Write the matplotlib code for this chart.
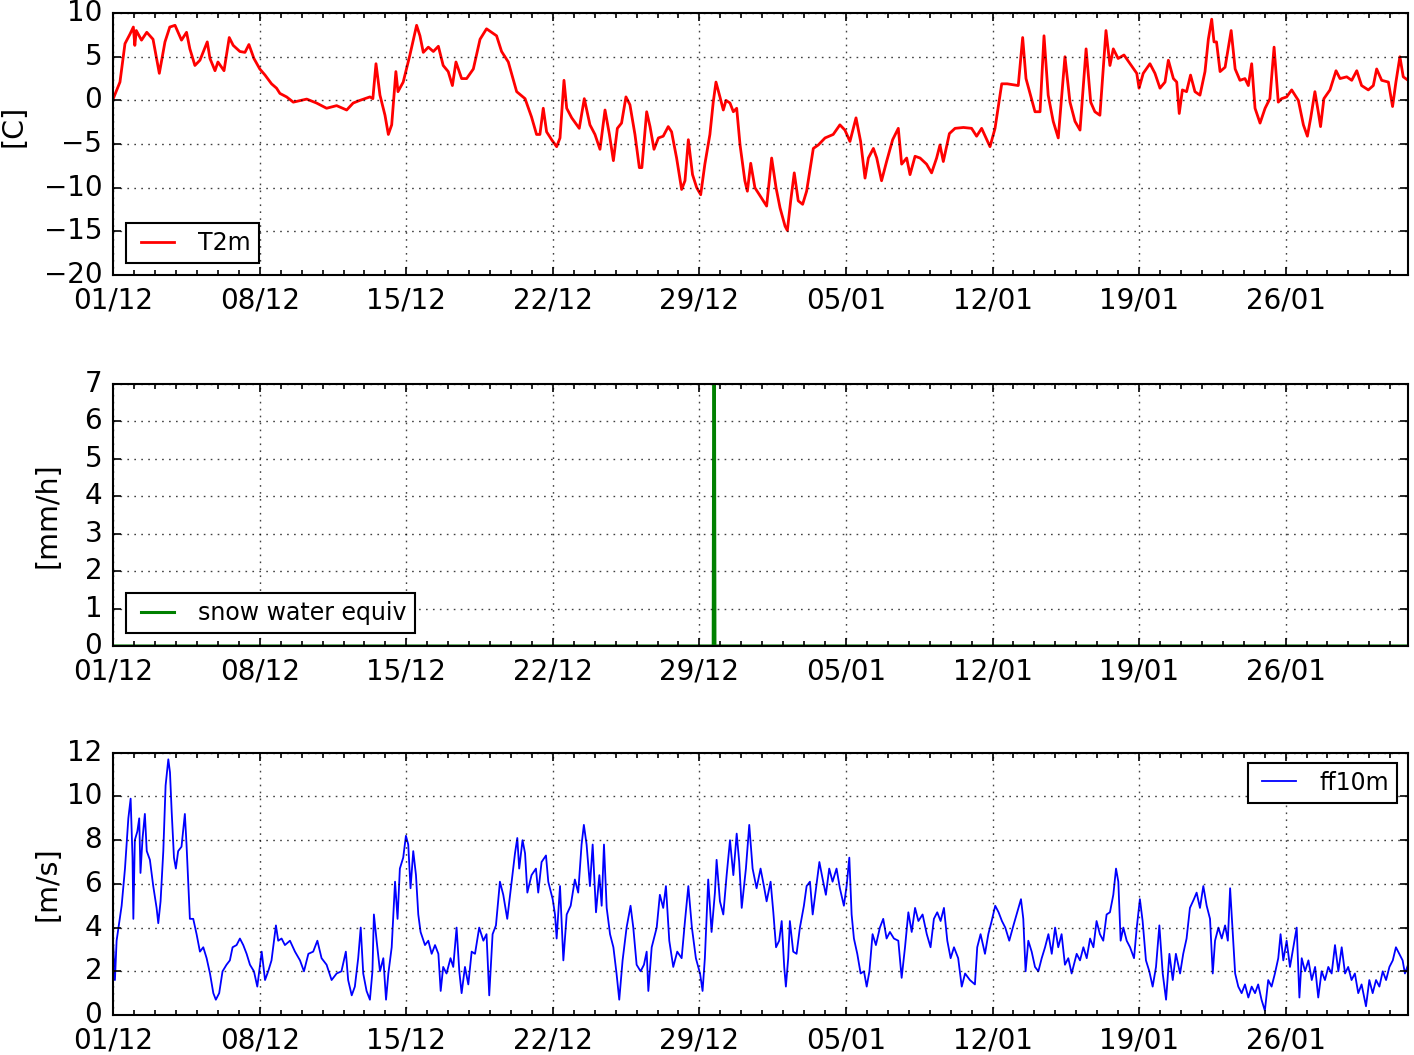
import numpy as np
import matplotlib
matplotlib.use('Agg')
import matplotlib.pyplot as plt
import matplotlib.dates as mdates

# start of the record, times below are days after it
start = np.datetime64('2012-12-01T00:00')
end_day = 61.85

# 2 m temperature [C]
t2m_day = [0, 0.32, 0.56, 0.8, 0.96, 1.03, 1.1, 1.35, 1.6, 1.9, 2.2, 2.47, 2.7, 2.95, 3.26, 3.5,
           3.66, 3.9, 4.14, 4.49, 4.62, 4.86, 5.0, 5.29, 5.54, 5.73, 6.05, 6.29, 6.48, 6.72, 7.0,
           7.25, 7.56, 7.8, 7.96, 8.28, 8.6, 9.24, 9.71, 10.19, 10.67, 11.15, 11.46, 11.78, 12.26,
           12.4, 12.55, 12.74, 12.98, 13.14, 13.3, 13.5, 13.6, 13.85, 14.17, 14.49, 14.65, 14.81,
           15.05, 15.29, 15.53, 15.76, 16.0, 16.2, 16.37, 16.64, 16.88, 17.2, 17.52, 17.83, 18.07,
           18.31, 18.55, 18.87, 19.27, 19.67, 19.98, 20.22, 20.38, 20.54, 20.7, 20.94, 21.18,
           21.34, 21.53, 21.66, 21.9, 22.26, 22.5, 22.77, 23.01, 23.25, 23.49, 23.7, 23.89, 24.08,
           24.28, 24.49, 24.68, 24.92, 25.13, 25.25, 25.48, 25.64, 25.83, 26.04, 26.27, 26.51,
           26.67, 26.91, 27.15, 27.31, 27.47, 27.67, 27.87, 28.06, 28.26, 28.5, 28.66, 28.79,
           28.98, 29.14, 29.27, 29.46, 29.62, 29.78, 29.94, 30.17, 30.29, 30.45, 30.65, 30.89,
           31.21, 31.45, 31.66, 31.85, 32.09, 32.2, 32.36, 32.53, 32.72, 32.93, 33.12, 33.44,
           33.68, 34.0, 34.39, 34.71, 34.95, 35.19, 35.48, 35.7, 35.91, 36.07, 36.31, 36.47, 36.7,
           36.94, 37.23, 37.5, 37.66, 37.9, 38.06, 38.3, 38.54, 38.85, 39.09, 39.33, 39.49, 39.65,
           39.94, 40.21, 40.61, 41.0, 41.24, 41.48, 41.88, 42.12, 42.44, 42.7, 43.23, 43.44, 43.6,
           43.79, 44.03, 44.27, 44.46, 44.66, 44.9, 45.14, 45.46, 45.7, 45.94, 46.18, 46.47,
           46.69, 46.89, 47.13, 47.42, 47.61, 47.77, 48.0, 48.28, 48.57, 48.89, 49.0, 49.2, 49.52,
           49.76, 50.0, 50.24, 50.4, 50.64, 50.8, 50.92, 51.07, 51.27, 51.46, 51.67, 51.91, 52.15,
           52.31, 52.47, 52.58, 52.7, 52.87, 53.11, 53.4, 53.59, 53.82, 54.06, 54.22, 54.38,
           54.54, 54.78, 55.02, 55.25, 55.45, 55.65, 55.81, 56.05, 56.29, 56.61, 56.85, 57.04,
           57.2, 57.4, 57.56, 57.67, 57.83, 58.12, 58.41, 58.6, 58.92, 59.16, 59.4, 59.63, 59.95,
           60.19, 60.35, 60.59, 60.91, 61.11, 61.27, 61.46, 61.62, 61.85]
t2m_val = [0.2, 2.1, 6.5, 7.6, 8.4, 6.3, 8.0, 6.9, 7.8, 7.0, 3.1, 6.7, 8.4, 8.6, 6.9, 7.8,
           5.9, 4.0, 4.6, 6.7, 4.8, 3.4, 4.4, 3.4, 7.2, 6.3, 5.6, 5.5, 6.4, 4.8, 3.6,
           2.9, 1.9, 1.4, 0.8, 0.4, -0.2, 0.15, -0.3, -0.9, -0.6, -1.1, -0.3, 0.0, 0.4,
           0.2, 4.2, 0.6, -1.7, -3.9, -2.8, 3.3, 1.0, 2.1, 5.2, 8.6, 7.4, 5.5,
           6.1, 5.6, 6.2, 4.0, 3.3, 1.7, 4.4, 2.5, 2.5, 3.6, 7.0, 8.2, 7.8,
           7.4, 5.6, 4.4, 1.0, 0.2, -1.9, -3.9, -3.9, -0.9, -3.6, -4.5, -5.3,
           -4.3, 2.3, -0.9, -2.0, -3.2, 0.2, -2.8, -3.9, -5.6, -1.1, -3.9, -6.9, -3.2,
           -2.6, 0.4, -0.5, -3.9, -7.7, -7.7, -1.3, -3.0, -5.6, -4.3, -4.1, -3.0,
           -3.6, -6.6, -10.2, -9.2, -4.5, -8.5, -10.0, -10.8, -7.3, -3.9, -0.2, 2.1,
           0.4, -1.1, 0.0, -0.3, -1.3, -0.9, -5.1, -9.2, -10.4, -7.2, -10.0, -10.9,
           -12.1, -6.6, -10.0, -12.3, -14.4, -14.9, -11.5, -8.3, -11.5, -11.9, -10.4, -5.5,
           -5.1, -4.3, -3.9, -2.8, -3.4, -4.7, -2.0, -4.7, -8.9, -6.6, -5.5, -6.6, -9.2,
           -7.0, -4.5, -3.2, -7.3, -6.6, -8.5, -6.4, -6.6, -7.3, -8.3, -6.6, -5.1, -7.0,
           -3.8, -3.2, -3.1, -3.2, -4.1, -3.2, -5.3, -3.2, 1.9, 1.9, 1.7, 7.2, 2.5,
           0.8, -1.3, -1.3, 7.4, 0.6, -2.4, -4.3, 5.0, -0.2, -2.4, -3.4, 5.9,
           -0.2, -1.3, -1.7, 8.0, 4.0, 5.9, 4.8, 5.2, 4.2, 3.1, 1.4, 3.1, 4.2,
           3.1, 1.4, 2.1, 4.6, 2.5, 2.1, -1.5, 1.2, 1.0, 2.9, 1.0, 0.6, 3.3,
           7.0, 9.3, 6.7, 6.7, 3.3, 3.8, 8.0, 3.6, 2.3, 2.5, 1.7, 4.2,
           -0.9, -2.6, -0.9, 0.2, 6.1, -0.2, 0.2, 0.4, 1.2, 0.0, -2.8, -4.1,
           -2.0, 1.0, -1.3, -3.0, 0.2, 1.2, 3.4, 2.5, 2.7, 2.3, 3.4, 1.7, 1.2,
           1.7, 3.6, 2.3, 2.1, -0.7, 2.1, 5.0, 2.7, 2.3]

# snow water equivalent [mm/h], zero apart from one hour
snow_day = [0, 28.66, 28.7, 28.74, 61.85]
snow_val = [0, 0, 12.0, 0, 0]

# 10 m wind speed [m/s]
ff_day = [0.0, 0.08, 0.16, 0.4, 0.56, 0.72, 0.83, 0.92, 0.96, 1.03, 1.15, 1.24, 1.3, 1.4, 1.51,
          1.6, 1.75, 1.91, 2.07, 2.15, 2.26, 2.39, 2.5, 2.63, 2.71, 2.79, 2.9, 2.99, 3.1, 3.26,
          3.42, 3.5, 3.58, 3.66, 3.82, 3.98, 4.14, 4.3, 4.46, 4.62, 4.78, 4.9, 5.06, 5.22, 5.41,
          5.57, 5.7, 5.89, 6.05, 6.21, 6.37, 6.53, 6.72, 6.88, 7.09, 7.25, 7.4, 7.56, 7.77, 7.88,
          8.04, 8.2, 8.44, 8.68, 8.92, 9.11, 9.32, 9.55, 9.75, 9.95, 10.19, 10.43, 10.67, 10.9,
          11.11, 11.22, 11.39, 11.54, 11.7, 11.82, 11.94, 12.1, 12.26, 12.38, 12.45, 12.58, 12.74,
          12.9, 13.03, 13.14, 13.3, 13.46, 13.58, 13.69, 13.85, 13.98, 14.09, 14.2, 14.33, 14.46,
          14.57, 14.68, 14.89, 15.05, 15.21, 15.37, 15.53, 15.64, 15.76, 15.92, 16.11, 16.24,
          16.4, 16.53, 16.64, 16.8, 16.96, 17.12, 17.28, 17.48, 17.68, 17.83, 17.96, 18.12,
          18.28, 18.47, 18.63, 18.82, 19.03, 19.19, 19.3, 19.39, 19.55, 19.67, 19.78, 19.98,
          20.19, 20.3, 20.46, 20.67, 20.78, 20.99, 21.1, 21.18, 21.34, 21.5, 21.66, 21.85, 22.05,
          22.21, 22.37, 22.48, 22.61, 22.77, 22.9, 23.06, 23.22, 23.33, 23.44, 23.57, 23.73,
          23.89, 24.04, 24.17, 24.33, 24.52, 24.71, 24.84, 25.0, 25.19, 25.35, 25.48, 25.56,
          25.72, 25.96, 26.11, 26.27, 26.4, 26.56, 26.75, 26.94, 27.15, 27.31, 27.47, 27.64,
          27.83, 28.03, 28.15, 28.26, 28.42, 28.58, 28.74, 28.82, 28.98, 29.14, 29.3, 29.46,
          29.62, 29.78, 29.9, 30.02, 30.22, 30.38, 30.54, 30.73, 30.92, 31.08, 31.21, 31.4,
          31.53, 31.66, 31.81, 31.93, 32.05, 32.13, 32.24, 32.32, 32.48, 32.64, 32.8, 32.99,
          33.12, 33.28, 33.41, 33.57, 33.73, 33.89, 34.04, 34.2, 34.36, 34.55, 34.71, 34.9,
          35.03, 35.16, 35.27, 35.38, 35.54, 35.7, 35.86, 35.99, 36.12, 36.27, 36.43, 36.62,
          36.78, 36.94, 37.1, 37.29, 37.5, 37.66, 37.82, 37.98, 38.14, 38.3, 38.46, 38.66,
          38.86, 39.04, 39.2, 39.36, 39.52, 39.68, 39.84, 40.0, 40.16, 40.36, 40.53, 40.69,
          40.92, 41.16, 41.27, 41.43, 41.64, 41.8, 41.96, 42.13, 42.29, 42.45, 42.61, 42.8,
          43.0, 43.15, 43.36, 43.47, 43.58, 43.71, 43.87, 44.03, 44.19, 44.35, 44.51, 44.67,
          44.83, 44.99, 45.14, 45.3, 45.46, 45.62, 45.78, 46.02, 46.18, 46.34, 46.5, 46.66,
          46.82, 46.97, 47.13, 47.29, 47.45, 47.61, 47.77, 47.9, 48.01, 48.12, 48.25, 48.41,
          48.57, 48.76, 48.89, 49.04, 49.17, 49.33, 49.49, 49.65, 49.81, 49.97, 50.13, 50.29,
          50.45, 50.61, 50.76, 50.96, 51.11, 51.27, 51.43, 51.62, 51.75, 51.91, 52.07, 52.23,
          52.39, 52.52, 52.63, 52.79, 52.95, 53.11, 53.24, 53.35, 53.48, 53.59, 53.74, 53.9,
          54.06, 54.22, 54.38, 54.54, 54.69, 54.85, 55.01, 55.17, 55.33, 55.49, 55.65, 55.76,
          55.89, 56.05, 56.21, 56.37, 56.53, 56.66, 56.77, 56.93, 57.09, 57.25, 57.41, 57.56,
          57.72, 57.88, 58.04, 58.2, 58.36, 58.52, 58.68, 58.84, 58.99, 59.15, 59.31, 59.47,
          59.63, 59.84, 60.0, 60.16, 60.32, 60.48, 60.64, 60.8, 60.96, 61.12, 61.27, 61.43,
          61.59, 61.7, 61.85]
ff_val = [3.2, 1.6, 3.4, 5.0, 6.7, 9.0, 9.9, 7.2, 4.4, 8.0, 8.4, 9.0, 6.5, 8.1, 9.2,
          7.5, 7.1, 5.9, 4.9, 4.2, 5.2, 7.5, 10.5, 11.7, 11.1, 9.3, 7.2, 6.7, 7.5, 7.7,
          9.2, 7.8, 6.1, 4.4, 4.4, 3.7, 2.9, 3.1, 2.6, 1.9, 1.0, 0.7, 1.0, 2.0, 2.3,
          2.5, 3.1, 3.2, 3.5, 3.2, 2.8, 2.3, 2.0, 1.3, 2.9, 1.6, 2.0, 2.5, 4.1, 3.4,
          3.5, 3.2, 3.4, 2.9, 2.5, 2.0, 2.8, 2.9, 3.4, 2.6, 2.3, 1.6, 1.9, 2.0,
          2.9, 1.6, 0.9, 1.3, 2.6, 4.0, 1.9, 1.1, 0.7, 2.0, 4.6, 3.4, 2.0,
          2.6, 0.7, 1.9, 3.1, 6.1, 4.4, 6.7, 7.2, 8.2, 7.8, 5.8, 7.5, 6.4,
          4.6, 3.8, 3.2, 3.4, 2.8, 3.2, 2.8, 1.1, 2.2, 1.9, 2.6, 2.2,
          4.0, 2.0, 1.0, 2.2, 1.4, 2.9, 2.8, 4.0, 3.4, 3.7, 0.9, 3.7,
          4.1, 6.1, 5.5, 4.4, 6.1, 7.4, 8.1, 6.7, 8.0, 7.4, 5.6, 6.4,
          6.7, 5.6, 7.0, 7.3, 6.1, 5.3, 4.6, 3.5, 5.9, 2.5, 4.6, 5.0, 6.2,
          5.6, 7.8, 8.7, 7.8, 5.9, 7.8, 4.7, 6.4, 5.0, 7.8, 4.9, 3.7,
          3.1, 1.9, 0.7, 2.5, 4.0, 5.0, 4.0, 2.3, 2.0, 2.3, 2.9, 1.1,
          3.1, 4.0, 5.5, 4.9, 5.9, 3.4, 2.2, 2.9, 2.6, 4.3, 5.9, 4.0,
          2.6, 1.9, 1.1, 2.6, 6.2, 3.8, 5.6, 7.1, 5.2, 4.6, 6.4, 8.0,
          6.4, 8.3, 7.0, 4.9, 6.7, 8.7, 6.7, 5.8, 6.7, 5.9, 5.2, 6.1,
          4.7, 3.1, 3.4, 4.3, 2.2, 1.3, 2.6, 4.3, 2.9, 2.8, 4.0, 5.0,
          5.9, 6.1, 4.6, 5.8, 7.0, 6.2, 5.5, 6.7, 6.1, 6.7, 5.8, 5.0,
          5.9, 7.2, 4.6, 3.5, 2.8, 1.9, 2.0, 1.3, 2.0, 3.7, 3.2, 4.0,
          4.4, 3.5, 3.8, 3.5, 3.4, 1.7, 3.1, 4.7, 3.8, 4.9, 4.3, 4.6,
          3.7, 3.1, 4.4, 4.7, 4.3, 4.9, 3.4, 2.6, 3.1, 2.6, 1.3, 1.9,
          1.6, 1.4, 3.1, 3.7, 2.8, 3.7, 4.3, 5.0, 4.7, 4.3, 4.0, 3.4,
          4.1, 4.6, 5.3, 4.4, 2.0, 3.4, 2.9, 2.2, 2.0, 2.6, 3.1, 3.7,
          2.8, 4.0, 3.1, 3.7, 2.3, 2.6, 1.9, 2.8, 2.5, 3.1, 2.6, 3.5,
          3.1, 4.3, 3.7, 3.4, 4.6, 4.7, 5.5, 6.7, 6.1, 3.4, 4.0, 3.4,
          3.1, 2.6, 4.0, 5.3, 4.3, 2.5, 2.0, 1.3, 2.2, 4.1, 1.9, 0.7,
          2.8, 1.6, 2.8, 1.9, 2.8, 3.5, 4.9, 5.3, 5.6, 4.9, 5.9, 5.0,
          4.4, 1.9, 3.4, 4.0, 3.5, 4.1, 3.4, 5.8, 3.7, 1.9, 1.3, 1.0,
          1.4, 0.8, 1.3, 1.0, 1.4, 0.7, 0.2, 1.6, 1.3, 1.9, 2.6, 3.7,
          2.5, 3.4, 2.2, 3.1, 4.0, 0.8, 2.6, 2.0, 2.5, 1.6, 2.2, 0.8,
          2.0, 1.6, 2.2, 1.9, 3.2, 2.0, 3.1, 1.9, 2.2, 1.6, 1.9, 1.0,
          1.4, 0.4, 1.6, 1.0, 1.6, 1.3, 2.0, 1.6, 2.2, 2.5, 3.1, 2.8,
          2.5, 1.9, 2.3]

# weekly labelled ticks
week_days = [0, 7, 14, 21, 28, 35, 42, 49, 56]


def to_dates(days):
    # day offsets -> datetime64 (minute resolution)
    return start + (np.asarray(days) * 24 * 60).round().astype('timedelta64[m]')


plt.style.use('classic')
plt.rcParams['font.family'] = ['DejaVu Sans']

fig = plt.figure(figsize=(14.14, 10.55), dpi=100, facecolor='white')
ax1 = fig.add_axes([0.0801, 0.7393, 0.9157, 0.2483])
ax2 = fig.add_axes([0.0801, 0.3877, 0.9157, 0.2483])
ax3 = fig.add_axes([0.0801, 0.0379, 0.9157, 0.2486])

ax1.plot(to_dates(t2m_day), t2m_val, color='red', lw=2.0, label='T2m')
ax2.plot(to_dates(snow_day), snow_val, color='green', lw=2.2, label='snow water equiv')
ax3.plot(to_dates(ff_day), ff_val, color='blue', lw=1.3, label='ff10m')

ax1.set_ylim(-20, 10)
ax1.set_yticks(np.arange(-20, 11, 5))
ax2.set_ylim(0, 7)
ax2.set_yticks(np.arange(0, 8, 1))
ax3.set_ylim(0, 12)
ax3.set_yticks(np.arange(0, 13, 2))

ax1.set_ylabel('[C]', fontsize=20.5)
ax1.yaxis.set_label_coords(-0.066, 0.57)
ax2.set_ylabel('[mm/h]', fontsize=20.5)
ax2.yaxis.set_label_coords(-0.040, 0.5)
ax3.set_ylabel('[m/s]', fontsize=20.5)
ax3.yaxis.set_label_coords(-0.040, 0.5)

leg_kw = dict(fontsize=17, fancybox=False, shadow=False, framealpha=1, borderaxespad=0,
              borderpad=0.33, handlelength=2.0, handletextpad=0.72, numpoints=2)
ax1.legend(loc='lower left', bbox_to_anchor=(0.010, 0.046), **leg_kw)
ax2.legend(loc='lower left', bbox_to_anchor=(0.010, 0.050), **leg_kw)
ax3.legend(loc='upper right', bbox_to_anchor=(0.9915, 0.961), **leg_kw)

for ax in (ax1, ax2, ax3):
    ax.set_xlim(to_dates([0, end_day]))
    ax.set_xticks(to_dates(week_days))
    ax.xaxis.set_major_formatter(mdates.DateFormatter('%d/%m'))
    ax.xaxis.set_minor_locator(mdates.DayLocator())
    ax.grid(True, which='major', color='k', alpha=0.75,
            linestyle=(0, (1.2, 3.8)), linewidth=1.0)
    ax.tick_params(which='major', direction='in', length=6, width=1.2,
                   labelsize=20, top=True, right=True)
    ax.tick_params(axis='x', which='major', pad=8.5)
    ax.tick_params(axis='y', which='major', pad=8)
    ax.tick_params(which='minor', direction='in', length=3.5, width=1.2,
                   top=True, right=False)
    for sp in ax.spines.values():
        sp.set_linewidth(1.5)
    ax.get_legend().get_frame().set_linewidth(1.5)
    ax.get_legend().get_frame().set_edgecolor('k')

fig.savefig('out.png', dpi=100, facecolor='white')
